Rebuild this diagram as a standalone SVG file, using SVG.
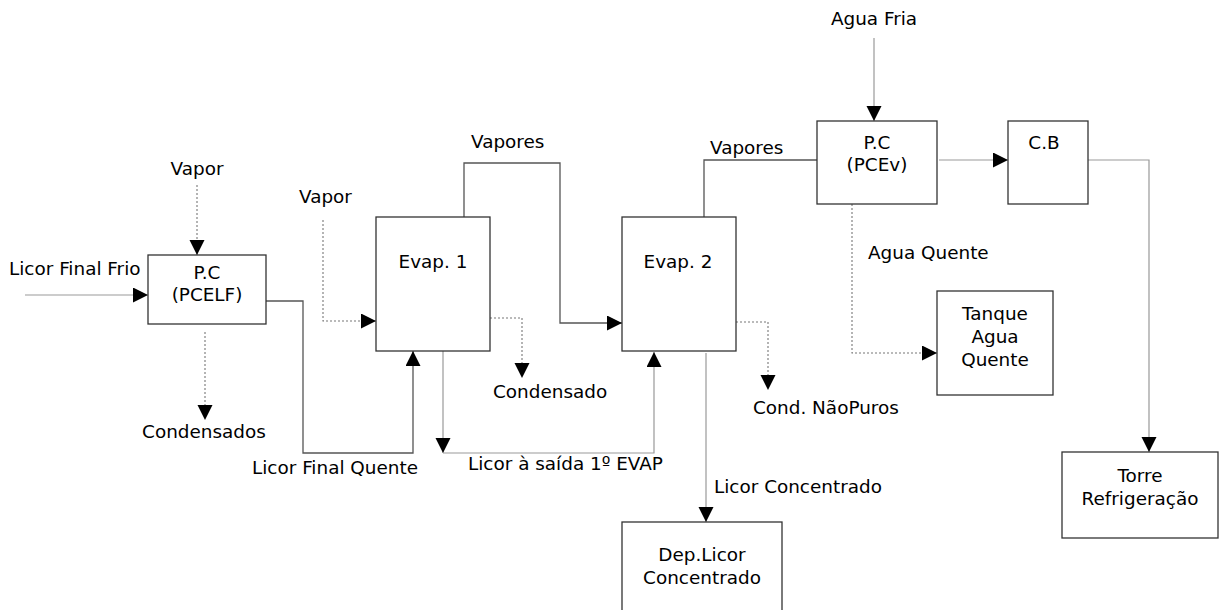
<svg xmlns="http://www.w3.org/2000/svg" width="1219" height="610" viewBox="0 0 1219 610">
  <style>
    text { font-family: "DejaVu Sans", Verdana, sans-serif; font-size: 18.4px; fill: #000; }
    .c { text-anchor: middle; }
    .box { fill: #fff; stroke: #333; stroke-width: 1.3; }
    .dk { fill: none; stroke: #555; stroke-width: 1.3; }
    .lt { fill: none; stroke: #999; stroke-width: 1.2; }
    .dt { fill: none; stroke: #777; stroke-width: 1.1; stroke-dasharray: 2 2; }
  </style>
  <defs>
    <marker id="arr" markerUnits="userSpaceOnUse" markerWidth="16" markerHeight="16" refX="15" refY="7.5" orient="auto">
      <path d="M0,0 L15,7.5 L0,15 z" fill="#000"/>
    </marker>
  </defs>

  <rect width="1219" height="610" fill="#fff"/>

  <!-- connectors -->
  <g id="connectors">
    <polyline class="lt" points="25,295 148,295" marker-end="url(#arr)"/>
    <polyline class="dt" points="197,185 197,255" marker-end="url(#arr)"/>
    <polyline class="dt" points="205,332 205,420" marker-end="url(#arr)"/>
    <polyline class="dk" points="266,301 303,301 303,453 413,453 413,351" marker-end="url(#arr)"/>
    <polyline class="dt" points="323,220 323,321 376,321" marker-end="url(#arr)"/>
    <polyline class="dk" points="464,217 464,163 560,163 560,323 622,323" marker-end="url(#arr)"/>
    <polyline class="dt" points="490,318 522,318 522,378" marker-end="url(#arr)"/>
    <polyline class="lt" points="443,351 443,453" marker-end="url(#arr)"/>
    <polyline class="lt" points="443,453 654,453 654,352" marker-end="url(#arr)"/>
    <polyline class="dk" points="704,217 704,160 817,160"/>
    <polyline class="dt" points="736,322 768,322 768,390" marker-end="url(#arr)"/>
    <polyline class="lt" points="706,353 706,522" marker-end="url(#arr)"/>
    <polyline class="lt" points="874,38 874,121" marker-end="url(#arr)"/>
    <polyline class="lt" points="939,160 1008,160" marker-end="url(#arr)"/>
    <polyline class="lt" points="1088,160 1149,160 1149,452" marker-end="url(#arr)"/>
    <polyline class="dt" points="852,204 852,353 937,353" marker-end="url(#arr)"/>
  </g>

  <!-- stream labels -->
  <g id="labels">
    <text x="197" y="175" class="c">Vapor</text>
    <text x="9" y="275">Licor Final Frio</text>
    <text x="204" y="438" class="c">Condensados</text>
    <text x="299" y="203">Vapor</text>
    <text x="471" y="148">Vapores</text>
    <text x="493" y="398">Condensado</text>
    <text x="252" y="474">Licor Final Quente</text>
    <text x="468" y="470">Licor à saída 1º EVAP</text>
    <text x="710" y="154">Vapores</text>
    <text x="753" y="414">Cond. NãoPuros</text>
    <text x="714" y="493">Licor Concentrado</text>
    <text x="874" y="25" class="c">Agua Fria</text>
    <text x="868" y="259">Agua Quente</text>
  </g>

  <g id="pcelf">
    <rect class="box" x="148" y="255" width="118" height="69"/>
    <text x="207" y="279" class="c">P.C</text>
    <text x="207" y="301" class="c">(PCELF)</text>
  </g>

  <g id="evap1">
    <rect class="box" x="376" y="217" width="114" height="134"/>
    <text x="433" y="268" class="c">Evap. 1</text>
  </g>

  <g id="evap2">
    <rect class="box" x="622" y="217" width="114" height="134"/>
    <text x="678" y="268" class="c">Evap. 2</text>
  </g>

  <g id="dep-licor">
    <rect class="box" x="622" y="522" width="160" height="100"/>
    <text x="702" y="561" class="c">Dep.Licor</text>
    <text x="702" y="584" class="c">Concentrado</text>
  </g>

  <g id="pcev">
    <rect class="box" x="817" y="121" width="120" height="83"/>
    <text x="877" y="149" class="c">P.C</text>
    <text x="877" y="171" class="c">(PCEv)</text>
  </g>

  <g id="cb">
    <rect class="box" x="1008" y="121" width="80" height="83"/>
    <text x="1044" y="149" class="c">C.B</text>
  </g>

  <g id="tanque">
    <rect class="box" x="937" y="291" width="116" height="104"/>
    <text x="995" y="320" class="c">Tanque</text>
    <text x="995" y="343" class="c">Agua</text>
    <text x="995" y="366" class="c">Quente</text>
  </g>

  <g id="torre">
    <rect class="box" x="1062" y="452" width="156" height="86"/>
    <text x="1140" y="482" class="c">Torre</text>
    <text x="1140" y="505" class="c">Refrigeração</text>
  </g>
</svg>
